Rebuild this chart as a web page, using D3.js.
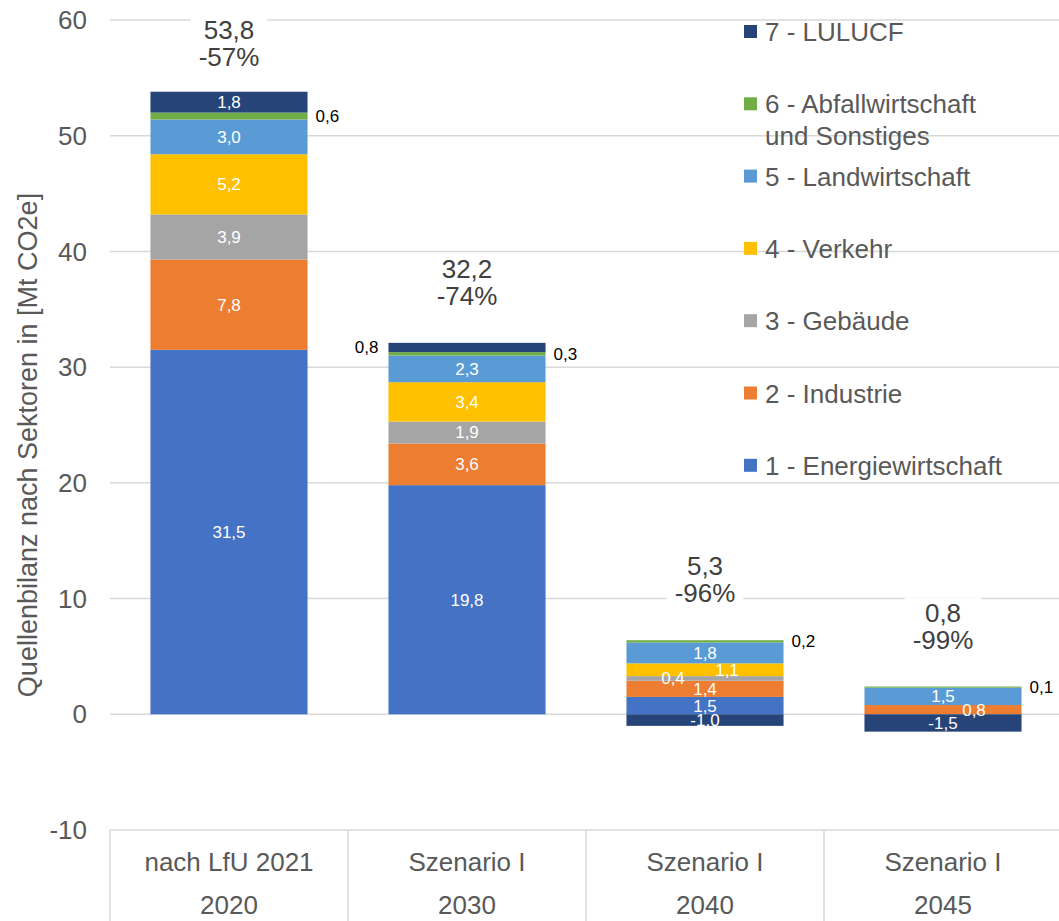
<!DOCTYPE html>
<html>
<head>
<meta charset="utf-8">
<script src="https://cdn.jsdelivr.net/npm/d3@7"></script>
<style>
  body { margin: 0; background: #fff; }
  text { font-family: "Liberation Sans", Arial, sans-serif; }
</style>
</head>
<body>
<div id="chart"></div>
<script>
/* global d3 */

// Data
const scenarios = ['nach LfU 2021', 'Szenario I', 'Szenario I', 'Szenario I']
const years = ['2020', '2030', '2040', '2045']
const sectors = ['1 - Energiewirtschaft', '2 - Industrie', '3 - Gebäude', '4 - Verkehr',
  '5 - Landwirtschaft', '6 - Abfallwirtschaft und Sonstiges', '7 - LULUCF']
const energie = [31.5, 19.8, 1.5, 0]
const industrie = [7.8, 3.6, 1.4, 0.8]
const gebaeude = [3.9, 1.9, 0.4, 0]
const verkehr = [5.2, 3.4, 1.1, 0]
const landwirtschaft = [3.0, 2.3, 1.8, 1.5]
const abfall = [0.6, 0.3, 0.2, 0.1]
const lulucf = [1.8, 0.8, -1.0, -1.5]
const totals = [53.8, 32.2, 5.3, 0.8]
const reductions = [-57, -74, -96, -99]
const yTicks = [-10, 0, 10, 20, 30, 40, 50, 60]

const colors = ['#4472C4', '#ED7D31', '#A5A5A5', '#FFC000', '#5B9BD5', '#70AD47', '#264478']

// Canvas
const width = 1059,
  height = 921,
  plotLeft = 110,
  plotRight = 1062,
  plotTop = 20,
  axisY = 830,
  bigFont = 26,
  smallFont = 17

const svg = d3.select('#chart')
  .append('svg')
  .attr('width', width)
  .attr('height', height)

const seriesValues = [energie, industrie, gebaeude, verkehr, landwirtschaft, abfall, lulucf]
const rows = years.map((yr, i) => {
  const r = { year: yr, idx: i }
  sectors.forEach((s, j) => { r[s] = seriesValues[j][i] })
  return r
})

const stack = d3.stack()
  .keys(sectors)
  .offset(d3.stackOffsetDiverging)
const layers = stack(rows)

const x = d3.scaleBand()
  .domain(years)
  .range([plotLeft, plotRight])
  .paddingInner(0.34)
  .paddingOuter(0.17)

const y = d3.scaleLinear()
  .domain([-10, 60])
  .range([axisY, plotTop])

const fmt = v => d3.format('.1f')(v).replace('.', ',').replace('\u2212', '-')

// gridlines
svg.append('g')
  .selectAll('line')
  .data(yTicks.filter(t => t > -10))
  .enter()
  .append('line')
  .attr('x1', plotLeft)
  .attr('x2', plotRight)
  .attr('y1', d => y(d))
  .attr('y2', d => y(d))
  .attr('stroke', '#d9d9d9')
  .attr('stroke-width', 1.5)

// y tick labels
svg.append('g')
  .selectAll('text')
  .data(yTicks)
  .enter()
  .append('text')
  .attr('x', 87)
  .attr('y', d => y(d))
  .attr('dy', '0.35em')
  .attr('text-anchor', 'end')
  .attr('font-size', bigFont)
  .attr('fill', '#595959')
  .text(d => d)

// y axis title
svg.append('text')
  .attr('transform', `translate(37, 445) rotate(-90)`)
  .attr('text-anchor', 'middle')
  .attr('font-size', 27)
  .attr('fill', '#595959')
  .text('Quellenbilanz nach Sektoren in [Mt CO2e]')

// category axis (table style)
const step = x.step()
svg.append('line')
  .attr('x1', plotLeft).attr('x2', plotRight)
  .attr('y1', y(-10)).attr('y2', y(-10))
  .attr('stroke', '#d9d9d9').attr('stroke-width', 1.5)

svg.append('g')
  .selectAll('line')
  .data(d3.range(years.length + 1))
  .enter()
  .append('line')
  .attr('x1', i => plotLeft + i * step)
  .attr('x2', i => plotLeft + i * step)
  .attr('y1', y(-10))
  .attr('y2', height)
  .attr('stroke', '#d9d9d9')
  .attr('stroke-width', 1.5)

const cat = svg.append('g')
  .selectAll('g')
  .data(years)
  .enter()
  .append('g')
cat.append('text')
  .attr('x', d => x(d) + x.bandwidth() / 2)
  .attr('y', 862)
  .attr('dy', '0.35em')
  .attr('text-anchor', 'middle')
  .attr('font-size', bigFont)
  .attr('fill', '#595959')
  .text((d, i) => scenarios[i])
cat.append('text')
  .attr('x', d => x(d) + x.bandwidth() / 2)
  .attr('y', 905)
  .attr('dy', '0.35em')
  .attr('text-anchor', 'middle')
  .attr('font-size', bigFont)
  .attr('fill', '#595959')
  .text(d => d)

// bars
svg.append('g')
  .selectAll('g')
  .data(layers)
  .enter()
  .append('g')
  .attr('fill', (d, i) => colors[i])
  .selectAll('rect')
  .data(d => d)
  .enter()
  .append('rect')
  .attr('x', d => x(d.data.year))
  .attr('y', d => y(Math.max(d[0], d[1])))
  .attr('width', x.bandwidth())
  .attr('height', d => Math.abs(y(d[0]) - y(d[1])))

// data labels (small overlapping ones nudged sideways like the original)
const labelShift = { '3 - Gebäude|2040': -32, '4 - Verkehr|2040': 22, '2 - Industrie|2045': 31 }
const labels = []
layers.forEach((layer, si) => {
  layer.forEach(d => {
    const v = d.data[layer.key]
    if (v === 0) return
    const yc = (y(d[0]) + y(d[1])) / 2
    const hgt = Math.abs(y(d[0]) - y(d[1]))
    const x0 = x(d.data.year)
    let lab = { text: fmt(v), y: yc, x: x0 + x.bandwidth() / 2, anchor: 'middle', fill: '#fff' }
    if (si === 5) {
      lab = { text: fmt(v), y: yc, x: x0 + x.bandwidth() + 8, anchor: 'start', fill: '#000' }
    } else if (si === 6 && v > 0 && hgt < 14) {
      lab = { text: fmt(v), y: yc, x: x0 - 10, anchor: 'end', fill: '#000' }
    } else {
      lab.x += labelShift[layer.key + '|' + d.data.year] || 0
    }
    labels.push(lab)
  })
})

svg.append('g')
  .selectAll('text')
  .data(labels)
  .enter()
  .append('text')
  .attr('x', d => d.x)
  .attr('y', d => d.y)
  .attr('dy', '0.35em')
  .attr('text-anchor', d => d.anchor)
  .attr('font-size', smallFont)
  .attr('fill', d => d.fill)
  .text(d => d.text)

// totals above bars
const posTop = rows.map((r, i) => d3.sum(seriesValues, s => Math.max(0, s[i])))
const totalG = svg.append('g')
years.forEach((yr, i) => {
  const cx = x(yr) + x.bandwidth() / 2
  const y2 = Math.max(y(posTop[i]) - 47, 57)
  const g = totalG.append('g')
  const t = g.append('text')
    .attr('x', cx)
    .attr('text-anchor', 'middle')
    .attr('font-size', bigFont)
    .attr('fill', '#404040')
  t.append('tspan').attr('x', cx).attr('y', y2 - 27).attr('dy', '0.35em').text(fmt(totals[i]))
  t.append('tspan').attr('x', cx).attr('y', y2).attr('dy', '0.35em').text(reductions[i] + '%')
  const bb = t.node().getBBox()
  g.insert('rect', 'text')
    .attr('x', bb.x - 8)
    .attr('y', bb.y)
    .attr('width', bb.width + 16)
    .attr('height', bb.height)
    .attr('fill', '#fff')
})

// legend
const legend = svg.append('g')
  .selectAll('g')
  .data(sectors.slice().reverse())
  .enter()
  .append('g')
  .attr('transform', (d, i) => `translate(744, ${32 + i * 72.3})`)

legend.append('rect')
  .attr('x', 0)
  .attr('y', -7)
  .attr('width', 13)
  .attr('height', 13)
  .attr('fill', d => colors[sectors.indexOf(d)])

legend.append('text')
  .attr('x', 21)
  .attr('font-size', bigFont)
  .attr('fill', '#595959')
  .each(function (d) {
    const el = d3.select(this)
    const words = d.split(' ')
    let line = []
    let lineNo = 0
    let ts = el.append('tspan').attr('x', 21).attr('y', 0).attr('dy', '0.35em')
    words.forEach(w => {
      line.push(w)
      ts.text(line.join(' '))
      if (ts.node().getComputedTextLength() > 250 && line.length > 1) {
        line.pop()
        ts.text(line.join(' '))
        line = [w]
        lineNo++
        ts = el.append('tspan').attr('x', 21).attr('y', lineNo * 32).attr('dy', '0.35em').text(w)
      }
    })
  })
</script>
</body>
</html>
